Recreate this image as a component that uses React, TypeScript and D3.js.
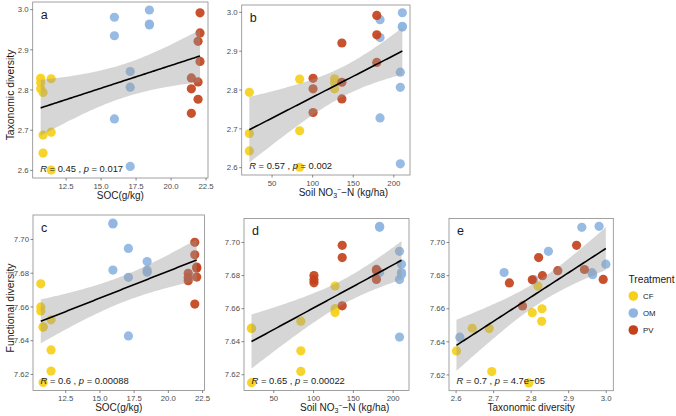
import React from 'react';
import * as d3 from 'd3';

// ---------------- data (27 samples) ----------------
const treatment = [
  'CF', 'CF', 'CF', 'CF', 'CF', 'CF', 'CF', 'CF', 'CF',
  'OM', 'OM', 'OM', 'OM', 'OM', 'OM', 'OM', 'OM', 'OM',
  'PV', 'PV', 'PV', 'PV', 'PV', 'PV', 'PV', 'PV', 'PV',
];
const soc = [
  10.85, 10.85, 10.85, 11.43, 11.43, 11.43, 10.68, 10.68, 10.68,
  17.08, 15.95, 17.08, 17.08, 15.95, 15.95, 18.45, 18.45, 18.45,
  21.45, 21.93, 21.93, 21.45, 22.07, 21.93, 22.07, 22.07, 21.45,
];
const no3 = [
  22, 22, 22, 84, 84, 84, 127, 127, 127,
  208, 183, 208, 208, 183, 183, 210.5, 210.5, 210.5,
  100.5, 136, 136, 100.5, 179, 136, 179, 179, 100.5,
];
const taxonomic = [
  2.794, 2.688, 2.643, 2.828, 2.695, 2.601, 2.829, 2.818, 2.803,
  2.61, 2.728, 2.807, 2.846, 2.935, 2.981, 2.962, 2.964, 2.999,
  2.742, 2.777, 2.82, 2.83, 2.871, 2.921, 2.942, 2.992, 2.803,
];
const functional = [
  7.6152, 7.648, 7.6482, 7.6524, 7.622, 7.6345, 7.66, 7.6737, 7.6576,
  7.6428, 7.6819, 7.6776, 7.6947, 7.7092, 7.7098, 7.6818, 7.6806, 7.6869,
  7.6756, 7.6617, 7.6909, 7.68, 7.683, 7.6983, 7.6837, 7.6777, 7.6775,
];

const treatmentLevels = ['CF', 'OM', 'PV'];
const treatmentColors = ['#F6D01A', '#8FB5E2', '#C3421C'];

const socTicks = [12.5, 15, 17.5, 20, 22.5];
const no3Ticks = [50, 100, 150, 200];
const taxTicks = [2.6, 2.7, 2.8, 2.9, 3.0];
const funTicks = [7.62, 7.64, 7.66, 7.68, 7.7];

const panelLetters = ['a', 'b', 'c', 'd', 'e'];
const rLabels = ['0.45', '0.57', '0.6', '0.65', '0.7'];
const pLabels = ['0.017', '0.002', '0.00088', '0.00022', '4.7e\u221205'];

// ---------------- layout ----------------
const FONT = "'Liberation Sans', Arial, Helvetica, sans-serif";
const W = 676;
const H = 416;

type Box = { l: number; r: number; t: number; b: number };

const varData: Record<string, number[]> = { soc, no3, tax: taxonomic, fun: functional };
const varTicks: Record<string, number[]> = { soc: socTicks, no3: no3Ticks, tax: taxTicks, fun: funTicks };
const varFmt: Record<string, (v: number) => string> = {
  soc: d3.format('.1f'),
  no3: d3.format('d'),
  tax: d3.format('.1f'),
  fun: d3.format('.2f'),
};

const panels: { x: string; y: string; box: Box; yTitle?: string; yTitleY?: number; xTitleShift?: number }[] = [
  { x: 'soc', y: 'tax', box: { l: 32.7, r: 208, t: 2, b: 178 }, yTitle: 'Taxonomic diversity', yTitleY: 95 },
  { x: 'no3', y: 'tax', box: { l: 241.7, r: 410, t: 5, b: 175 }, xTitleShift: 57 },
  { x: 'soc', y: 'fun', box: { l: 33, r: 204.5, t: 215, b: 390.5 }, yTitle: 'Functional diversity', yTitleY: 308 },
  { x: 'no3', y: 'fun', box: { l: 244, r: 409, t: 218.5, b: 390.5 }, xTitleShift: 56 },
  { x: 'tax', y: 'fun', box: { l: 449, r: 613.3, t: 218.5, b: 390.7 } },
];

function expanded(vals: number[]): [number, number] {
  const [mn, mx] = d3.extent(vals) as [number, number];
  const pad = (mx - mn) * 0.05;
  return [mn - pad, mx + pad];
}

function regression(xs: number[], ys: number[]) {
  const n = xs.length;
  const xbar = d3.mean(xs) as number;
  const ybar = d3.mean(ys) as number;
  let sxx = 0, sxy = 0;
  for (let i = 0; i < n; i++) {
    sxx += (xs[i] - xbar) ** 2;
    sxy += (xs[i] - xbar) * (ys[i] - ybar);
  }
  const slope = sxy / sxx;
  const intercept = ybar - slope * xbar;
  let sse = 0;
  for (let i = 0; i < n; i++) sse += (ys[i] - (intercept + slope * xs[i])) ** 2;
  const s = Math.sqrt(sse / (n - 2));
  const t = 2.0595; // t(0.975, df = 25)
  const [mn, mx] = d3.extent(xs) as [number, number];
  const pts = d3.range(0, 81).map((k) => {
    const x = mn + ((mx - mn) * k) / 80;
    const yhat = intercept + slope * x;
    const se = s * Math.sqrt(1 / n + (x - xbar) ** 2 / sxx);
    return { x, yhat, lo: yhat - t * se, hi: yhat + t * se };
  });
  return pts;
}

const xTitle = (key: string) => {
  if (key === 'soc') return <tspan>SOC(g/kg)</tspan>;
  if (key === 'tax') return <tspan>Taxonomic diversity</tspan>;
  return (
    <>
      <tspan>Soil NO</tspan>
      <tspan dy={2.2} fontSize={7}>3</tspan>
      <tspan dy={-5.5} fontSize={7}>{'\u2212'}</tspan>
      <tspan dy={3.3}>{'\u2212N (kg/ha)'}</tspan>
    </>
  );
};

function Panel({ idx }: { idx: number }) {
  const p = panels[idx];
  const { box } = p;
  const xs = varData[p.x];
  const ys = varData[p.y];
  const xScale = d3.scaleLinear().domain(expanded(xs)).range([box.l, box.r]);
  const yScale = d3.scaleLinear().domain(expanded(ys)).range([box.b, box.t]);
  const fit = regression(xs, ys);
  const area = d3
    .area<{ x: number; lo: number; hi: number }>()
    .x((d) => xScale(d.x))
    .y0((d) => yScale(d.lo))
    .y1((d) => yScale(d.hi));
  const line = d3
    .line<{ x: number; yhat: number }>()
    .x((d) => xScale(d.x))
    .y((d) => yScale(d.yhat));
  const color = d3.scaleOrdinal<string, string>().domain(treatmentLevels).range(treatmentColors);
  const clipId = `clip-${idx}`;
  const xt = varTicks[p.x];
  const yt = varTicks[p.y];
  const cx = (box.l + box.r) / 2;
  return (
    <g>
      <defs>
        <clipPath id={clipId}>
          <rect x={box.l} y={box.t} width={box.r - box.l} height={box.b - box.t} />
        </clipPath>
      </defs>
      <rect x={box.l} y={box.t} width={box.r - box.l} height={box.b - box.t} fill="#fff" />
      <g clipPath={`url(#${clipId})`}>
        {xs.map((xv, i) => (
          <circle key={i} cx={xScale(xv)} cy={yScale(ys[i])} r={4.6} fill={color(treatment[i])} fillOpacity={0.92} />
        ))}
        <path d={area(fit) || ''} fill="#999999" fillOpacity={0.4} />
        <path d={line(fit) || ''} fill="none" stroke="#000" strokeWidth={1.6} />
      </g>
      <rect x={box.l} y={box.t} width={box.r - box.l} height={box.b - box.t} fill="none" stroke="#8a8a8a" strokeWidth={0.8} />
      {/* y ticks */}
      {yt.map((v) => (
        <g key={`y${v}`}>
          <line x1={box.l - 2.5} x2={box.l} y1={yScale(v)} y2={yScale(v)} stroke="#555" strokeWidth={0.7} />
          <text x={box.l - 4} y={yScale(v)} dy="0.35em" textAnchor="end" fontSize={7.8} fill="#4d4d4d" fontFamily={FONT}>
            {varFmt[p.y](v)}
          </text>
        </g>
      ))}
      {/* x ticks */}
      {xt.map((v) => (
        <g key={`x${v}`}>
          <line x1={xScale(v)} x2={xScale(v)} y1={box.b} y2={box.b + 2.5} stroke="#555" strokeWidth={0.7} />
          <text x={xScale(v)} y={box.b + 10.5} textAnchor="middle" fontSize={7.8} fill="#4d4d4d" fontFamily={FONT}>
            {varFmt[p.x](v)}
          </text>
        </g>
      ))}
      {/* x title */}
      <text
        x={p.xTitleShift !== undefined ? box.l + p.xTitleShift : cx}
        y={box.b + 20.5}
        textAnchor={p.xTitleShift !== undefined ? 'start' : 'middle'}
        fontSize={10}
        fill="#1a1a1a"
        fontFamily={FONT}
      >
        {xTitle(p.x)}
      </text>
      {p.yTitle && (
        <text
          transform={`translate(13.5,${p.yTitleY}) rotate(-90)`}
          textAnchor="middle"
          fontSize={10.4}
          fill="#1a1a1a"
          fontFamily={FONT}
        >
          {p.yTitle}
        </text>
      )}
      {/* panel letter */}
      <text x={box.l + 8} y={box.t + 16.5} fontSize={12.5} fill="#1a1a1a" fontFamily={FONT}>
        {panelLetters[idx]}
      </text>
      {/* stats label */}
      <text x={box.l + 7.5} y={box.b - 6.5} fontSize={9.4} fill="#1a1a1a" fontFamily={FONT}>
        <tspan fontStyle="italic">R</tspan>
        <tspan>{` = ${rLabels[idx]} , `}</tspan>
        <tspan fontStyle="italic">p</tspan>
        <tspan>{` = ${pLabels[idx]}`}</tspan>
      </text>
    </g>
  );
}

function Legend() {
  const color = d3.scaleOrdinal<string, string>().domain(treatmentLevels).range(treatmentColors);
  return (
    <g>
      <text x={628.5} y={283} fontSize={10.2} fill="#1a1a1a" fontFamily={FONT}>
        Treatment
      </text>
      {treatmentLevels.map((t, i) => (
        <g key={t}>
          <circle cx={633.3} cy={296 + i * 17} r={4.8} fill={color(t)} />
          <text x={643} y={296 + i * 17} dy="0.35em" fontSize={7.8} fill="#1a1a1a" fontFamily={FONT}>
            {t}
          </text>
        </g>
      ))}
    </g>
  );
}

export default function App() {
  return (
    <svg
      width={W}
      height={H}
      viewBox={`0 0 ${W} ${H}`}
      style={{ position: 'absolute', left: 0, top: 0, display: 'block', background: '#fff' }}
    >
      <rect x={0} y={0} width={W} height={H} fill="#fff" />
      {panels.map((_, i) => (
        <Panel key={i} idx={i} />
      ))}
      <Legend />
    </svg>
  );
}
